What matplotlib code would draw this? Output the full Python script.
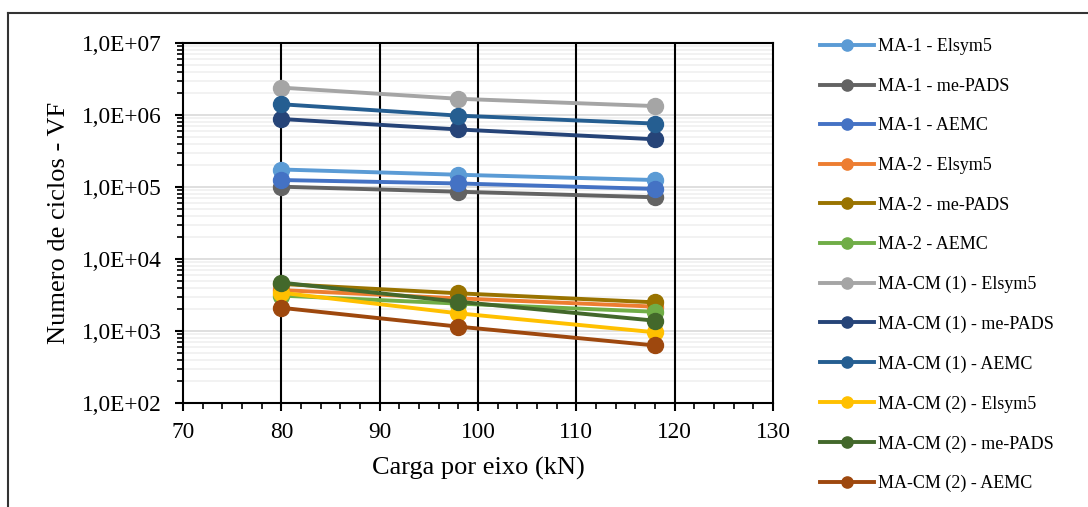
import numpy as np
import matplotlib.pyplot as plt
from matplotlib.ticker import FuncFormatter, LogLocator, MultipleLocator
from matplotlib.lines import Line2D

plt.rcParams['font.family'] = ['Liberation Serif', 'DejaVu Serif']

carga = [80, 98, 118]

series = [
    ("MA-1 - Elsym5", "#5B9BD5", [1.75e5, 1.48e5, 1.25e5]),
    ("MA-1 - me-PADS", "#636363", [1.01e5, 8.6e4, 7.2e4]),
    ("MA-1 - AEMC", "#4472C4", [1.25e5, 1.12e5, 9.4e4]),
    ("MA-2 - Elsym5", "#ED7D31", [3.7e3, 2.84e3, 2.18e3]),
    ("MA-2 - me-PADS", "#997300", [4.5e3, 3.34e3, 2.5e3]),
    ("MA-2 - AEMC", "#70AD47", [3.1e3, 2.4e3, 1.85e3]),
    ("MA-CM (1) - Elsym5", "#A5A5A5", [2.4e6, 1.68e6, 1.33e6]),
    ("MA-CM (1) - me-PADS", "#264478", [8.8e5, 6.3e5, 4.6e5]),
    ("MA-CM (1) - AEMC", "#255E91", [1.41e6, 9.8e5, 7.6e5]),
    ("MA-CM (2) - Elsym5", "#FFC000", [3.4e3, 1.76e3, 9.6e2]),
    ("MA-CM (2) - me-PADS", "#43682B", [4.7e3, 2.55e3, 1.39e3]),
    ("MA-CM (2) - AEMC", "#9E480E", [2.1e3, 1.15e3, 6.3e2]),
]

fig = plt.figure(figsize=(10.88, 5.07), dpi=100)
ax = fig.add_axes([183/1088, 1-403/507, (773-183)/1088, (403-43)/507])

for name, col, vals in series:
    ax.plot(carga, vals, color=col, lw=2.8, marker='o', ms=11.5, label=name, zorder=3)

ax.set_yscale('log')
ax.set_ylim(1e2, 1e7)
ax.set_xlim(70, 130)
ax.xaxis.set_major_locator(MultipleLocator(10))
ax.xaxis.set_minor_locator(MultipleLocator(2))
ax.yaxis.set_major_locator(LogLocator(base=10))
ax.yaxis.set_minor_locator(LogLocator(base=10, subs=np.arange(2, 10)))
ax.yaxis.set_major_formatter(FuncFormatter(lambda v, p: "1,0E+%02d" % round(np.log10(v))))

ax.set_axisbelow(True)
ax.grid(True, which='major', axis='y', color='#d9d9d9', lw=1.2)
ax.grid(True, which='minor', axis='y', color='#f0f0f0', lw=1.2)
for xv in [80, 90, 100, 110, 120]:
    ax.axvline(xv, color='black', lw=1.5, zorder=1.5)

for s in ax.spines.values():
    s.set_linewidth(1.5)
ax.tick_params(axis='both', which='major', labelsize=16.8, length=6, width=1.5, direction='out')
ax.tick_params(axis='both', which='minor', length=4, width=1.2, direction='out')
ax.tick_params(axis='y', which='major', pad=9)
ax.tick_params(axis='x', which='major', pad=8)

ax.set_xlabel('Carga por eixo (kN)', fontsize=19, labelpad=10)
ax.set_ylabel('Numero de ciclos - VF', fontsize=19, labelpad=9)

fig.legend(loc='upper left', bbox_to_anchor=(804/1088, 1-22/507), frameon=False,
           fontsize=13, handlelength=3.0, handletextpad=0.2, labelspacing=1.25,
           markerscale=0.7)

fig.add_artist(Line2D([8/1088, 8/1088], [0, 1-13/507], color='#333333', lw=1.5))
fig.add_artist(Line2D([8/1088, 1], [1-13/507, 1-13/507], color='#333333', lw=1.5))

fig.savefig('out.png', dpi=100)
